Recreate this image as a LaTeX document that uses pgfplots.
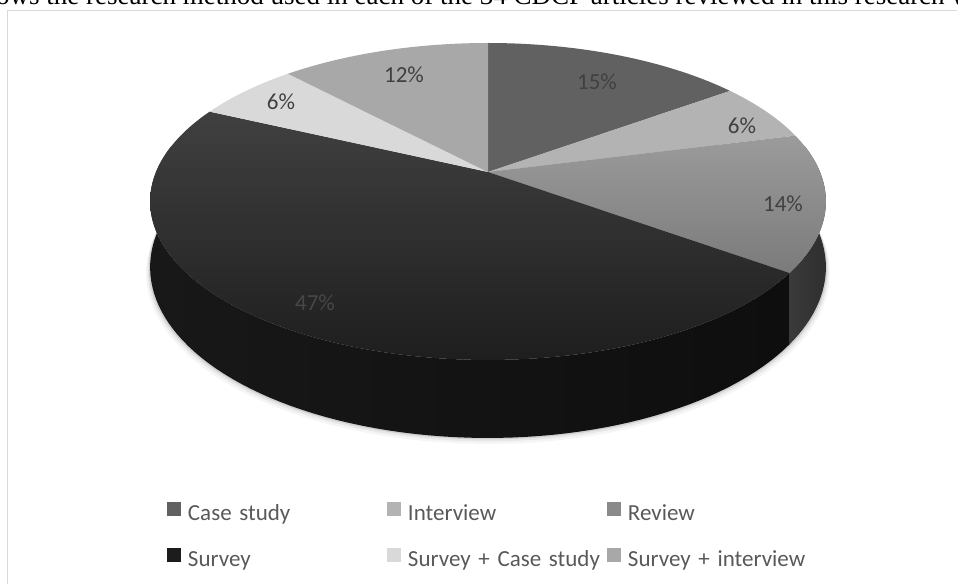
\documentclass[border=0pt]{standalone}
\usepackage{pgfplots}
\pgfplotsset{compat=1.18}
\usepackage{pgfplotstable}
\usepackage{fontspec}
\setmainfont{Carlito}
\newfontfamily\serifttl{Liberation Serif}

\definecolor{cCase}{HTML}{616161}
\definecolor{cInt}{HTML}{B3B3B3}
\definecolor{cRevT}{HTML}{9B9B9B}
\definecolor{cRevB}{HTML}{7B7B7B}
\definecolor{cRev}{HTML}{8A8A8A}
\definecolor{cSurT}{HTML}{404040}
\definecolor{cSurM}{HTML}{212121}
\definecolor{cSurB}{HTML}{1E1E1E}
\definecolor{cSur}{HTML}{1C1C1C}
\definecolor{cSideSurL}{HTML}{181818}
\definecolor{cSideSurR}{HTML}{0E0E0E}
\definecolor{cSideRevL}{HTML}{3A3A3A}
\definecolor{cSideRevR}{HTML}{2E2E2E}
\definecolor{cSCS}{HTML}{D9D9D9}
\definecolor{cSI}{HTML}{A8A8A8}
\definecolor{cLab}{HTML}{404040}
\definecolor{cLeg}{HTML}{595959}
\definecolor{cFrame}{HTML}{D9D9D9}
\tikzset{lab/.style={font=\fontsize{23}{27}\selectfont, text=cLab, inner sep=0pt}}

\pgfplotstableread[col sep=comma,row sep=\\]{
method,pct\\
Case study,15\\
Interview,6\\
Review,14\\
Survey,47\\
Survey + Case study,6\\
Survey + interview,12\\
}\piedata
\pgfplotstablecreatecol[create col/expr accum={\pgfmathaccuma+\thisrow{pct}}{0}]{cum}\piedata

\begin{document}
\begin{tikzpicture}[declare function={
  pd(\t)=1+0.186*sin(\t);
  PX(\t)=488+332*cos(\t)/pd(\t);
  PT(\t)=172-153*sin(\t)/pd(\t);
  PB(\t)=172+(63.5-153*sin(\t))/pd(\t);
}]
\foreach \i/\n in {0/A,1/B,2/C,3/D,4/E,5/F}{%
  \pgfplotstablegetelem{\i}{pct}\of\piedata \let\valP\pgfplotsretval
  \pgfplotstablegetelem{\i}{cum}\of\piedata \let\valC\pgfplotsretval
  \pgfmathsetmacro\angE{90-3.6*\valC}%
  \pgfmathsetmacro\angS{\angE+3.6*\valP}%
  \expandafter\xdef\csname s\n\endcsname{\angS}%
  \expandafter\xdef\csname e\n\endcsname{\angE}%
}
\pgfmathsetmacro\loD{max(\eD,-190)}
\pgfmathsetmacro\hiD{min(\sD,10)}
\pgfmathsetmacro\loC{max(\eC,-190)}
\pgfmathsetmacro\hiC{min(\sC,10)}
\begin{axis}[
  x=1pt, y=1pt, xmin=0, xmax=958, ymin=0, ymax=585,
  y dir=reverse, hide axis, scale only axis, clip=false,
  anchor=south west, at={(0,0)},
  legend image code/.code={\fill[#1,draw=none] (0pt,-1pt) rectangle (14pt,13pt);},
  legend columns=3,
  legend style={at={(0.1743,0.1419)}, anchor=north west, draw=none, fill=none,
    inner sep=0pt, outer sep=0pt, row sep=22pt,
    font=\fontsize{23}{27}\selectfont, text=cLeg,
    nodes={inner sep=0pt, text width=199pt, text height=17pt, text depth=5pt, align=left},
    /tikz/every odd column/.append style={column sep=7pt},
    /tikz/every even column/.append style={column sep=0pt}},
]
% page extent
\path (0,0) rectangle (958,585);
% frame
\draw[cFrame, line width=1.6pt] (7.5,584) -- (7.5,10.5) -- (957,10.5);
% title (cut by the page edge)
\node[overlay, anchor=base west, inner sep=0pt, font=\serifttl\fontsize{27}{31}\selectfont] at (-4,5)
  {ows the research method used in each of the 34 CDCP articles reviewed in this research w};
% shadow
\fill[black,opacity=0.04] plot[domain=0:360,samples=100,variable=\t] ({488+1.012*332*cos(\t)/pd(\t)},{PB(\t)+6}) -- cycle;
\fill[black,opacity=0.06] plot[domain=0:360,samples=100,variable=\t] ({488+1.008*332*cos(\t)/pd(\t)},{PB(\t)+3.5}) -- cycle;
\fill[black,opacity=0.10] plot[domain=0:360,samples=100,variable=\t] ({488+1.004*332*cos(\t)/pd(\t)},{PB(\t)+1.5}) -- cycle;
% sides
\shade[left color=cSideSurL, right color=cSideSurR]
  plot[domain=\loD:\hiD,samples=80,variable=\t] ({PX(\t)},{PT(\t)})
  -- plot[domain=\loD:\hiD,samples=80,variable=\t] ({PX(\loD+\hiD-\t)},{PB(\loD+\hiD-\t)}) -- cycle;
\shade[left color=cSideRevL, right color=cSideRevR]
  plot[domain=\loC:\hiC,samples=30,variable=\t] ({PX(\t)},{PT(\t)})
  -- plot[domain=\loC:\hiC,samples=30,variable=\t] ({PX(\loC+\hiC-\t)},{PB(\loC+\hiC-\t)}) -- cycle;
% top faces
\fill[cCase] (488,172) -- plot[domain=\eA:\sA,samples=40,variable=\t] ({PX(\t)},{PT(\t)}) -- cycle;
\fill[cInt]  (488,172) -- plot[domain=\eB:\sB,samples=30,variable=\t] ({PX(\t)},{PT(\t)}) -- cycle;
\shade[top color=cRevT, bottom color=cRevB] (488,172) -- plot[domain=\eC:\sC,samples=40,variable=\t] ({PX(\t)},{PT(\t)}) -- cycle;
\shade[top color=cSurT, middle color=cSurM, bottom color=cSurB] (488,172) -- plot[domain=\eD:\sD,samples=140,variable=\t] ({PX(\t)},{PT(\t)}) -- cycle;
\fill[cSCS]  (488,172) -- plot[domain=\eE:\sE,samples=30,variable=\t] ({PX(\t)},{PT(\t)}) -- cycle;
\fill[cSI]   (488,172) -- plot[domain=\eF:\sF,samples=40,variable=\t] ({PX(\t)},{PT(\t)}) -- cycle;
% labels
\node[lab] at (597,82) {15\%};
\node[lab] at (742,126) {6\%};
\node[lab] at (783,204) {14\%};
\node[lab, text=black!72] at (315,303) {47\%};
\node[lab] at (281,102) {6\%};
\node[lab] at (404,75) {12\%};
% legend
\addlegendimage{fill=cCase}\addlegendentry{Case study}
\addlegendimage{fill=cInt}\addlegendentry{Interview}
\addlegendimage{fill=cRev}\addlegendentry{Review}
\addlegendimage{fill=cSur}\addlegendentry{Survey}
\addlegendimage{fill=cSCS}\addlegendentry{Survey + Case study}
\addlegendimage{fill=cSI}\addlegendentry{Survey + interview}
\end{axis}
\end{tikzpicture}
\end{document}
